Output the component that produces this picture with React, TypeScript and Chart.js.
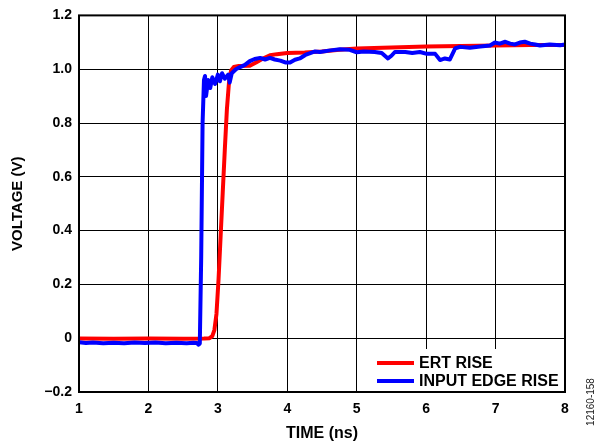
import React, { useEffect, useRef } from "react";
import { Chart, registerables } from "chart.js";

Chart.register(...registerables);

// ERT RISE (red)
const ertTime = [1.0, 1.5, 2.0, 2.5, 2.8, 2.88, 2.92, 2.95, 2.98, 3.01, 3.04, 3.07, 3.1, 3.13, 3.16, 3.19, 3.23, 3.3, 3.46, 3.55, 3.65, 3.75, 3.85, 4.0, 4.25, 4.5, 4.75, 5.0, 5.5, 6.0, 6.5, 7.0, 7.5, 8.0];
const ertVolt = [-0.001, -0.002, -0.001, -0.002, -0.001, 0.0, 0.008, 0.03, 0.09, 0.22, 0.38, 0.54, 0.7, 0.85, 0.95, 0.995, 1.008, 1.012, 1.013, 1.025, 1.04, 1.052, 1.056, 1.06, 1.062, 1.066, 1.072, 1.077, 1.081, 1.084, 1.086, 1.088, 1.09, 1.09];

// INPUT EDGE RISE (blue)
const inputTime = [1.0, 1.1, 1.2, 1.35, 1.5, 1.65, 1.8, 1.95, 2.1, 2.25, 2.4, 2.55, 2.65, 2.7, 2.72, 2.74, 2.76, 2.78, 2.8, 2.815, 2.83, 2.86, 2.89, 2.92, 2.96, 3.0, 3.03, 3.06, 3.1, 3.15, 3.17, 3.2, 3.26, 3.32, 3.39, 3.46, 3.53, 3.61, 3.68, 3.75, 3.82, 3.9, 3.97, 4.04, 4.11, 4.18, 4.26, 4.33, 4.4, 4.47, 4.62, 4.76, 4.9, 5.0, 5.1, 5.26, 5.36, 5.45, 5.5, 5.55, 5.7, 5.8, 5.91, 6.01, 6.13, 6.2, 6.27, 6.34, 6.42, 6.49, 6.63, 6.78, 6.92, 6.99, 7.06, 7.14, 7.21, 7.28, 7.35, 7.42, 7.5, 7.57, 7.64, 7.78, 7.93, 8.0];
const inputVolt = [-0.015, -0.018, -0.016, -0.019, -0.017, -0.019, -0.016, -0.018, -0.016, -0.019, -0.017, -0.019, -0.017, -0.018, -0.024, -0.02, 0.3, 0.8, 0.96, 0.975, 0.9, 0.96, 0.93, 0.97, 0.945, 0.98, 0.955, 0.985, 0.965, 0.98, 0.95, 0.985, 1.0, 1.008, 1.016, 1.03, 1.038, 1.042, 1.036, 1.042, 1.036, 1.032, 1.025, 1.025, 1.035, 1.04, 1.053, 1.06, 1.066, 1.064, 1.07, 1.074, 1.072, 1.063, 1.066, 1.064, 1.06, 1.04, 1.05, 1.064, 1.064, 1.06, 1.064, 1.057, 1.057, 1.034, 1.04, 1.036, 1.078, 1.083, 1.08, 1.084, 1.088, 1.099, 1.095, 1.102, 1.095, 1.092, 1.099, 1.102, 1.095, 1.092, 1.088, 1.092, 1.089, 1.092];

const seriesNames = ["ERT RISE", "INPUT EDGE RISE"];
const seriesColors = ["#ff0000", "#0000ff"];
const xLimits = [1, 8];
const yLimits = [-0.2, 1.2];
const xTitle = "TIME (ns)";
const yTitle = "VOLTAGE (V)";
const figureId = "12160-158";

const FONT = "'Liberation Sans', Arial, sans-serif";

export default function App() {
  const ref = useRef<HTMLCanvasElement>(null);

  useEffect(() => {
    document.body.style.margin = "0";
    const canvas = ref.current!;

    const overlay = {
      id: "overlay",
      afterDraw(chart: any) {
        const { ctx, chartArea } = chart;
        const { left, right, top, bottom } = chartArea;
        ctx.save();
        // legend box
        const lx = 373, ly = 349, lw = right - 373 - 1, lh = bottom - 349;
        ctx.fillStyle = "#ffffff";
        ctx.fillRect(lx, ly, lw, lh);
        ctx.font = `bold 16px ${FONT}`;
        ctx.textBaseline = "middle";
        ctx.textAlign = "left";
        const rows = [363, 381];
        seriesNames.forEach((name, i) => {
          ctx.strokeStyle = seriesColors[i];
          ctx.lineWidth = 4;
          ctx.beginPath();
          ctx.moveTo(377, rows[i]);
          ctx.lineTo(414, rows[i]);
          ctx.stroke();
          ctx.fillStyle = "#000";
          ctx.fillText(name, 419, rows[i] + 1);
        });
        // frame
        ctx.strokeStyle = "#000";
        ctx.lineWidth = 2;
        ctx.strokeRect(left, top, right - left, bottom - top);
        // figure id
        ctx.translate(591, 402);
        ctx.rotate(-Math.PI / 2);
        ctx.font = `10px ${FONT}`;
        ctx.fillStyle = "#222";
        ctx.textAlign = "center";
        ctx.textBaseline = "middle";
        ctx.fillText(figureId, 0, 0);
        ctx.restore();
      },
    };

    const chart = new Chart(canvas, {
      type: "line",
      data: {
        datasets: [
          {
            label: seriesNames[0],
            data: ertTime.map((t, i) => ({ x: t, y: ertVolt[i] })),
            borderColor: seriesColors[0],
            borderWidth: 4,
            borderJoinStyle: "round",
            pointRadius: 0,
            tension: 0,
            order: 1,
          },
          {
            label: seriesNames[1],
            data: inputTime.map((t, i) => ({ x: t, y: inputVolt[i] })),
            borderColor: seriesColors[1],
            borderWidth: 4,
            borderJoinStyle: "round",
            pointRadius: 0,
            tension: 0,
            order: 0,
          },
        ],
      },
      options: {
        responsive: false,
        animation: false,
        devicePixelRatio: 1,
        layout: { padding: { left: 0, top: 12, right: 34, bottom: 0 } },
        plugins: { legend: { display: false }, tooltip: { enabled: false } },
        scales: {
          x: {
            type: "linear",
            min: xLimits[0],
            max: xLimits[1],
            afterFit: (s: any) => { s.height = 54; },
            ticks: {
              stepSize: 1,
              padding: 9,
              color: "#000",
              font: { family: FONT, size: 14, weight: "bold" },
              maxRotation: 0,
            },
            grid: { color: "#000", lineWidth: 1, drawTicks: false },
            border: { display: false },
            title: {
              display: true,
              text: xTitle,
              color: "#000",
              font: { family: FONT, size: 16, weight: "bold" },
              padding: { top: 0, bottom: 3 },
            },
          },
          y: {
            type: "linear",
            min: yLimits[0],
            max: yLimits[1],
            afterFit: (s: any) => { s.width = 79; },
            ticks: {
              stepSize: 0.2,
              padding: 7,
              color: "#000",
              font: { family: FONT, size: 14, weight: "bold" },
              callback: (v: any) => {
                const r = Math.round(Number(v) * 10) / 10;
                if (r === 0) return "0";
                if (r < 0) return "\u2212" + Math.abs(r).toFixed(1);
                return r.toFixed(1);
              },
            },
            grid: { color: "#000", lineWidth: 1, drawTicks: false },
            border: { display: false },
            title: {
              display: true,
              text: yTitle,
              color: "#000",
              font: { family: FONT, size: 15, weight: "bold" },
              padding: { top: 9, bottom: 0 },
            },
          },
        },
      },
      plugins: [overlay],
    });
    return () => chart.destroy();
  }, []);

  return (
    <div style={{ width: 599, height: 446 }}>
      <canvas ref={ref} width={599} height={446} style={{ display: "block" }} />
    </div>
  );
}
